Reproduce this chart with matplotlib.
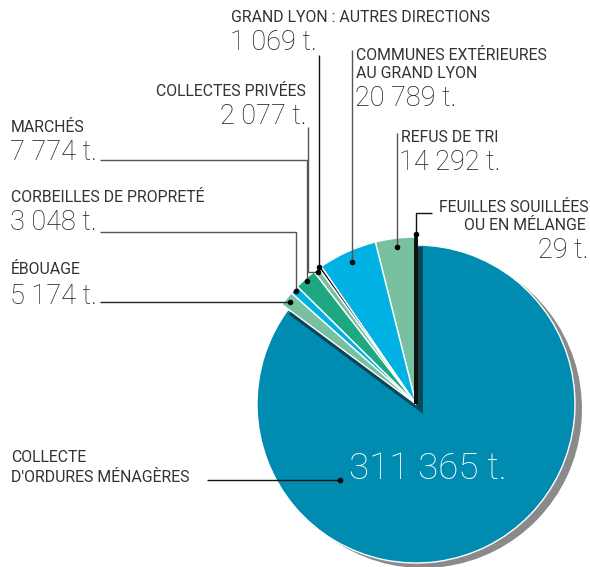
import matplotlib
matplotlib.use('Agg')
import matplotlib.pyplot as plt
import numpy as np

# tonnages, in the order the slices run round from 12 o'clock
names = ['FEUILLES SOUILLÉES\nOU EN MÉLANGE', 'REFUS DE TRI', 'COMMUNES EXTÉRIEURES\nAU GRAND LYON',
         'GRAND LYON : AUTRES DIRECTIONS', 'COLLECTES PRIVÉES', 'MARCHÉS',
         'CORBEILLES DE PROPRETÉ', 'ÉBOUAGE', 'COLLECTE\nD\'ORDURES MÉNAGÈRES']
tonnes = [29, 14292, 20789, 1069, 2077, 7774, 3048, 5174, 311365]
values_txt = ['29 t.', '14 292 t.', '20 789 t.', '1 069 t.', '2 077 t.', '7 774 t.',
              '3 048 t.', '5 174 t.', '311 365 t.']
colors = ['#111111', '#77c1a0', '#00b1e4', '#111111', '#77c1a0', '#1ea882',
          '#00b1e4', '#77c1a0', '#008bb0']

plt.rcParams['font.family'] = ['Roboto', 'DejaVu Sans']
TXT = '#333333'

fig = plt.figure(figsize=(5.9, 5.67), dpi=100)
ax = fig.add_axes([0, 0, 1, 1])

cx, cy, R, R_big = 416, 404, 167, 159

# gray drop shadow of the big slice
sh, _ = ax.pie(tonnes, startangle=-90, counterclock=False, center=(cx + 7, cy + 5), radius=R,
               colors=['none'] * 8 + ['#8a8a8a'], wedgeprops=dict(linewidth=0))
sh[-1].set_radius(R_big)
for w in sh:
    w.set_zorder(1)

wedges, _ = ax.pie(tonnes, startangle=-90, counterclock=False, center=(cx, cy), radius=R,
                   colors=colors, wedgeprops=dict(edgecolor='white', linewidth=1))
big = wedges[-1]
big.set_radius(R_big)
big.set_zorder(2)
for w in wedges[:-1]:
    w.set_zorder(4)
wedges[0].set_edgecolor('#111111')
wedges[0].set_linewidth(2.2)
wedges[0].set_zorder(5)

# dark shadow cast by the small slices onto the big one
ds, _ = ax.pie(tonnes, startangle=-90, counterclock=False, center=(cx + 7, cy + 10), radius=R,
               colors=['#0b4556'] * 8 + ['none'], wedgeprops=dict(linewidth=0))
for w in ds:
    w.set_zorder(3)
    w.set_clip_path(big)

ax.set_xlim(0, 590)
ax.set_ylim(567, 0)
ax.set_aspect('equal')
ax.axis('off')

# dots on the slices: mid angle of each wedge at a given radius
dot_r = [170, 158, 156, 168, 164, 164, 165, 162]
dots = []
for w, r in zip(wedges[:-1], dot_r):
    a = np.deg2rad((w.theta1 + w.theta2) / 2)
    dots.append((cx + r * np.cos(a), cy + r * np.sin(a)))
dots.append((340, 480))

LBL = dict(fontsize=11.4, color=TXT)
NUM = dict(fontsize=19.5, color='#1a1a1a', fontweight='light')


def lbl(x, y, s, ha='left', big=False):
    ax.text(x, y, s, ha=ha, va='center', **(NUM if big else LBL))


def leader(xs, ys, c='#555555'):
    ax.plot(xs, ys, color=c, lw=1, zorder=6, solid_capstyle='butt')


# texts
lbl(231, 17, names[3]); lbl(230, 43, values_txt[3], big=True)
lbl(356, 55, 'COMMUNES EXTÉRIEURES'); lbl(356, 73, 'AU GRAND LYON'); lbl(355, 98, values_txt[2], big=True)
lbl(306, 91, names[4], ha='right'); lbl(307, 117, values_txt[4], ha='right', big=True)
lbl(401, 138, names[1]); lbl(399, 162, values_txt[1], big=True)
lbl(589, 208, 'FEUILLES SOUILLÉES', ha='right'); lbl(586, 226, 'OU EN MÉLANGE', ha='right')
lbl(588, 250, values_txt[0], ha='right', big=True)
lbl(11, 128, names[5]); lbl(10, 153, values_txt[5], big=True)
lbl(11, 198, names[6]); lbl(10, 223, values_txt[6], big=True)
lbl(11, 270, names[7]); lbl(10, 296, values_txt[7], big=True)
lbl(11, 458, 'COLLECTE'); lbl(11, 477, 'D\'ORDURES MÉNAGÈRES')
ax.text(428, 469, values_txt[8], ha='center', va='center', fontsize=26.5, color='white',
        fontweight='light', zorder=7)

# leader lines
d = dots
leader([d[0][0], d[0][0], 432], [d[0][1], 213, 213], c='#111111')
leader([d[1][0], d[1][0]], [d[1][1], 133])
leader([d[2][0], d[2][0]], [d[2][1], 50])
leader([d[3][0], d[3][0]], [d[3][1], 55], c='#111111')
leader([d[4][0], 308, 308], [d[4][1], d[4][1], 127])
leader([d[5][0], d[5][0], 100], [d[5][1], 160, 160])
leader([d[6][0], d[6][0], 100], [d[6][1], 232, 232])
leader([d[7][0], 100], [d[7][1], d[7][1]], c='#222222')
leader([d[8][0], 207], [d[8][1], d[8][1]], c='#111111')
ax.scatter([p[0] for p in dots], [p[1] for p in dots], s=9, color='black', zorder=8)

fig.savefig('out.png', dpi=100)
